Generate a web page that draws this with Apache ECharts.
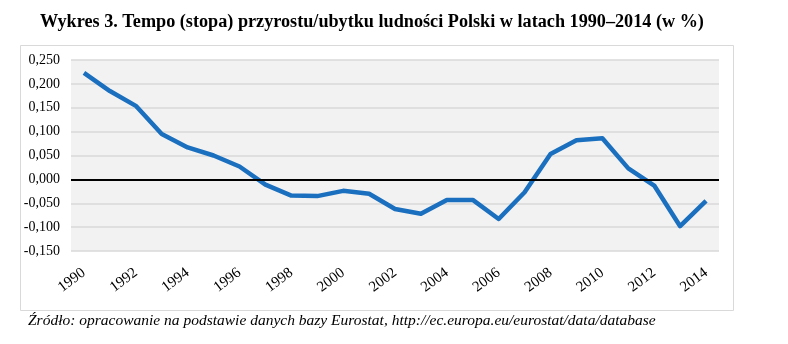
<!DOCTYPE html>
<html><head><meta charset="utf-8">
<script src="https://cdn.jsdelivr.net/npm/echarts@6/dist/echarts.min.js"></script>
<style>html,body{margin:0;padding:0;background:#fff}#c{width:788px;height:344px}</style>
</head><body><div id="c"></div>
<script>
var years = ['1990','1991','1992','1993','1994','1995','1996','1997','1998','1999','2000','2001','2002','2003','2004','2005','2006','2007','2008','2009','2010','2011','2012','2013','2014'];
var growth = [0.223,0.185,0.154,0.095,0.067,0.050,0.027,-0.011,-0.034,-0.035,-0.024,-0.030,-0.062,-0.072,-0.043,-0.043,-0.083,-0.027,0.053,0.082,0.086,0.023,-0.013,-0.098,-0.045];
var yTicks = {min:-0.15, max:0.25, interval:0.05};
var titleText = 'Wykres 3. Tempo (stopa) przyrostu/ubytku ludności Polski w latach 1990–2014 (w %)';
var sourceText = 'Źródło: opracowanie na podstawie danych bazy Eurostat, http://ec.europa.eu/eurostat/data/database';

var chart = echarts.init(document.getElementById('c'), null, {renderer:'canvas'});
chart.setOption({
  animation:false,
  backgroundColor:'#fff',
  title:{text:titleText,left:40,top:13,padding:0,textStyle:{fontFamily:'Liberation Serif',fontWeight:'bold',fontSize:18.2,color:'#000'}},
  graphic:[
    {type:'rect',shape:{x:20.5,y:45.5,width:713,height:265},style:{fill:'none',stroke:'#d9d9d9',lineWidth:1},z:-1},
    {type:'text',left:28,top:313,style:{text:sourceText,font:'italic 15.5px "Liberation Serif"',fill:'#000'}}
  ],
  grid:{left:71,right:69,top:60,bottom:93,show:true,backgroundColor:'#f2f2f2',borderWidth:0},
  xAxis:{type:'category',data:years,boundaryGap:true,
    axisLine:{show:false},axisTick:{show:false},
    axisLabel:{interval:1,rotate:37,fontFamily:'Liberation Serif',fontSize:15,color:'#000',margin:20}},
  yAxis:{type:'value',min:yTicks.min,max:yTicks.max,interval:yTicks.interval,
    axisLine:{show:false},axisTick:{show:false},
    axisLabel:{fontFamily:'Liberation Serif',fontSize:14,color:'#000',margin:11,
      formatter:function(v){return v.toFixed(3).replace('.',',');}},
    splitLine:{lineStyle:{color:'#d9d9d9',width:1.5}}},
  series:[{type:'line',data:growth,symbol:'none',lineStyle:{color:'#1a6fbf',width:4.5,join:'round'},
    markLine:{silent:true,symbol:'none',label:{show:false},lineStyle:{color:'#000',width:2,type:'solid'},data:[{yAxis:0}]}}]
});
</script></body></html>
